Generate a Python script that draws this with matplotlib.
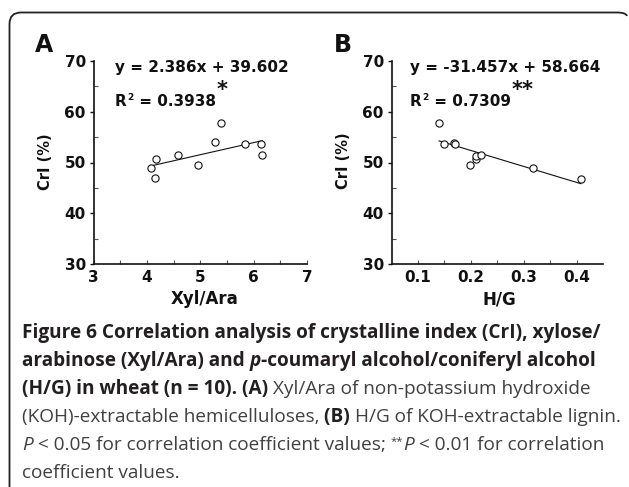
import matplotlib
matplotlib.use('Agg')
import matplotlib.pyplot as plt
from matplotlib.path import Path
from matplotlib.patches import PathPatch
from matplotlib.ticker import MultipleLocator

# data
xyl_ara = [4.08, 4.17, 4.16, 4.58, 4.96, 5.27, 5.39, 5.83, 6.13, 6.16]
cri_a = [49.0, 50.7, 46.9, 51.4, 49.6, 54.0, 57.7, 53.7, 53.7, 51.4]
h_g = [0.140, 0.150, 0.169, 0.170, 0.199, 0.209, 0.210, 0.219, 0.318, 0.408]
cri_b = [57.7, 53.7, 53.9, 53.6, 49.5, 50.6, 51.3, 51.4, 49.0, 46.8]

# fitted lines (slope, intercept) and R2 as printed
fit_a = (2.386, 39.602)
fit_b = (-31.457, 58.664)
r2_a = '0.3938'
r2_b = '0.7309'

W, H = 629, 487
fig = plt.figure(figsize=(W / 100, H / 100), dpi=100)
r = fig.canvas.get_renderer()


def fx(x):
    return x / W


def fy(y):
    return 1 - y / H


ink = '#111111'
chart_font = 'DejaVu Sans'


def style_axes(ax):
    for s in ['top', 'right']:
        ax.spines[s].set_visible(False)
    for s in ['left', 'bottom']:
        ax.spines[s].set_linewidth(1.2)
        ax.spines[s].set_color(ink)
    ax.set_ylim(30, 70)
    ax.yaxis.set_major_locator(MultipleLocator(10))
    ax.yaxis.set_minor_locator(MultipleLocator(5))
    ax.tick_params(axis='y', which='major', direction='out', length=3, width=1,
                   pad=2.5, color=ink)
    ax.tick_params(axis='y', which='minor', direction='in', length=3, width=0.8,
                   color='#555555')
    ax.tick_params(axis='x', which='both', direction='in', length=3, width=0.8,
                   pad=4, color='#555555')
    for lab in ax.get_xticklabels() + ax.get_yticklabels():
        lab.set_fontfamily(chart_font)
        lab.set_fontweight('bold')
        lab.set_fontsize(11)
        lab.set_color(ink)


def scatter_fit(ax, x, y, fit):
    ax.plot(x, y, 'o', ms=5.2, mfc='white', mec=ink, mew=0.8, zorder=3)
    xs = [min(x), max(x)]
    ax.plot(xs, [fit[0] * v + fit[1] for v in xs], color=ink, lw=0.8)


# panel A
axA = fig.add_axes([fx(93.5), fy(264), (307 - 93.5) / W, (264 - 61) / H])
axA.set_xlim(3, 7)
axA.xaxis.set_major_locator(MultipleLocator(1))
axA.xaxis.set_minor_locator(MultipleLocator(0.5))
scatter_fit(axA, xyl_ara, cri_a, fit_a)
style_axes(axA)

# panel B
axB = fig.add_axes([fx(391.5), fy(264), (603 - 391.5) / W, (264 - 61) / H])
axB.set_xlim(0.05, 0.45)
axB.set_xticks([0.1, 0.2, 0.3, 0.4])
axB.set_xticks([0.15, 0.25, 0.35], minor=True)
axB.set_xticklabels(['0.1', '0.2', '0.3', '0.4'])
scatter_fit(axB, h_g, cri_b, fit_b)
style_axes(axB)

tk = dict(fontfamily=chart_font, fontweight='bold', color=ink)

# panel letters, axis labels, equations
fig.text(fx(35), fy(52), 'A', fontsize=17, va='baseline', **tk)
fig.text(fx(334), fy(52), 'B', fontsize=17, va='baseline', **tk)
fig.text(fx(205), fy(299), 'Xyl/Ara', fontsize=12, ha='center', va='center', **tk)
fig.text(fx(499), fy(299), 'H/G', fontsize=12, ha='center', va='center', **tk)
fig.text(fx(45), fy(162), 'CrI (%)', fontsize=10.5, rotation=90,
         ha='center', va='center', **tk)
fig.text(fx(343), fy(161), 'CrI (%)', fontsize=10.5, rotation=90,
         ha='center', va='center', **tk)

fig.text(fx(115), fy(72), 'y = %.3fx + %.3f' % fit_a, fontsize=11,
         va='baseline', **tk)
fig.text(fx(410), fy(72), 'y = %.3fx + %.3f' % fit_b, fontsize=11,
         va='baseline', **tk)


def r2_text(x0, value, stars):
    # R, small raised 2, then the value; significance stars right after
    t = fig.text(fx(x0), fy(106), 'R', fontsize=11, va='baseline', **tk)
    x = t.get_window_extent(r).x1 + 0.5
    t = fig.text(fx(x), fy(100), '2', fontsize=6.5, va='baseline', **tk)
    x = t.get_window_extent(r).x1
    t = fig.text(fx(x), fy(106), ' = ' + value, fontsize=11, va='baseline', **tk)
    x = t.get_window_extent(r).x1 + 1.5
    fig.text(fx(x), fy(90), stars, fontsize=15, ha='left', va='center', **tk)


r2_text(115, r2_a, '*')
r2_text(410, r2_b, '**')

# rounded frame, open at the bottom
box = [(9.5, 487), (9.5, 24), (9.5, 12.5), (21, 12.5), (617, 12.5),
       (626, 12.5), (627, 16)]
codes = [Path.MOVETO, Path.LINETO, Path.CURVE3, Path.CURVE3, Path.LINETO,
         Path.CURVE3, Path.CURVE3]
frame = PathPatch(Path([(fx(a), fy(b)) for a, b in box], codes),
                  transform=fig.transFigure, fill=False, lw=1.3,
                  edgecolor='#222222')
fig.patches.append(frame)

# caption
cap_font = 'Open Sans'
cap_size = 13.7
styles = {
    'b': dict(fontweight='bold', color='#231f20'),
    'bi': dict(fontweight='bold', fontstyle='italic', color='#231f20'),
    'r': dict(fontweight='normal', color='#404040'),
    'i': dict(fontweight='normal', fontstyle='italic', color='#404040'),
}


def caption_line(y, pieces):
    x = 22
    for text, st in pieces:
        size = cap_size
        dy = 0
        if st == 'sup':
            st, size, dy = 'r', cap_size * 0.6, 6
        kw = dict(fontfamily=cap_font, fontsize=size, **styles[st])
        fig.text(fx(x), fy(y - dy), text, va='baseline', ha='left', **kw)
        probe = fig.text(0, 0, '|' + text + '|', **kw)
        bars = fig.text(0, 0, '||', **kw)
        x += probe.get_window_extent(r).width - bars.get_window_extent(r).width
        probe.remove()
        bars.remove()


caption = [
    [('Figure 6 Correlation analysis of crystalline index (CrI), xylose/', 'b')],
    [('arabinose (Xyl/Ara) and ', 'b'), ('p', 'bi'),
     ('-coumaryl alcohol/coniferyl alcohol', 'b')],
    [('(H/G) in wheat (n = 10). (A) ', 'b'),
     ('Xyl/Ara of non-potassium hydroxide', 'r')],
    [('(KOH)-extractable hemicelluloses, ', 'r'), ('(B) ', 'b'),
     ('H/G of KOH-extractable lignin.', 'r')],
    [('P', 'i'), (' < 0.05 for correlation coefficient values; ', 'r'),
     ('**', 'sup'), ('P', 'i'), (' < 0.01 for correlation', 'r')],
    [('coefficient values.', 'r')],
]
for i, pieces in enumerate(caption):
    caption_line(338 + 28 * i, pieces)

fig.savefig('out.png', dpi=100)
